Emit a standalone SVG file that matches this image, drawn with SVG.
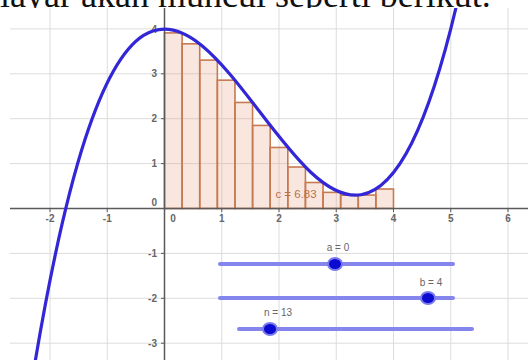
<svg xmlns="http://www.w3.org/2000/svg" width="528" height="360" viewBox="0 0 528 360">
<style>
.grid{stroke:#dcdcdc;stroke-width:1;fill:none}
.axis{stroke:#5a5a5a;stroke-width:1.5;fill:none}
.tick{stroke:#5a5a5a;stroke-width:1}
.lbl{font-family:"Liberation Sans",Arial,sans-serif;font-size:10px;fill:#666;font-weight:bold}
.rect{fill:#e8a080;fill-opacity:0.25;stroke:#c77a52;stroke-width:1.6}
.curve{stroke:#3326d6;stroke-width:3.2;fill:none}
.sline{stroke:#8585ee;stroke-width:4;stroke-linecap:round}
.knob{fill:#0a0ad0;stroke:#7a7af0;stroke-width:2}
.slbl{font-family:"Liberation Sans",Arial,sans-serif;font-size:10px;fill:#666;text-anchor:middle}
</style>
<defs>
<clipPath id="area"><rect x="10" y="8" width="518" height="352"/></clipPath>
</defs>
<rect width="528" height="360" fill="#fff"/>
<g id="caption">
<text x="0" y="7" font-family="Liberation Serif,Times New Roman,serif" font-size="36" fill="#111">layar akan muncul seperti berikut.</text>
</g>
<rect x="0" y="8" width="528" height="352" fill="#fff"/>
<g id="grid" class="grid">
<line x1="50" y1="8" x2="50" y2="360"/>
<line x1="107.25" y1="8" x2="107.25" y2="360"/>
<line x1="221.75" y1="8" x2="221.75" y2="360"/>
<line x1="279" y1="8" x2="279" y2="360"/>
<line x1="336.25" y1="8" x2="336.25" y2="360"/>
<line x1="393.5" y1="8" x2="393.5" y2="360"/>
<line x1="450.75" y1="8" x2="450.75" y2="360"/>
<line x1="508" y1="8" x2="508" y2="360"/>
<line x1="10" y1="28.9" x2="528" y2="28.9"/>
<line x1="10" y1="73.8" x2="528" y2="73.8"/>
<line x1="10" y1="118.7" x2="528" y2="118.7"/>
<line x1="10" y1="163.6" x2="528" y2="163.6"/>
<line x1="10" y1="253.4" x2="528" y2="253.4"/>
<line x1="10" y1="298.3" x2="528" y2="298.3"/>
<line x1="10" y1="343.2" x2="528" y2="343.2"/>
</g>
<g id="rectangles" class="rect">
<rect x="164.5" y="32.89" width="17.615" height="175.61"/>
<rect x="182.115" y="43.81" width="17.615" height="164.69"/>
<rect x="199.73" y="60.10" width="17.615" height="148.40"/>
<rect x="217.35" y="80.17" width="17.615" height="128.33"/>
<rect x="234.96" y="102.47" width="17.615" height="106.03"/>
<rect x="252.58" y="125.43" width="17.615" height="83.07"/>
<rect x="270.19" y="147.47" width="17.615" height="61.03"/>
<rect x="287.81" y="167.02" width="17.615" height="41.48"/>
<rect x="305.42" y="182.52" width="17.615" height="25.98"/>
<rect x="323.04" y="192.39" width="17.615" height="16.11"/>
<rect x="340.65" y="195.20" width="17.615" height="13.30"/>
<rect x="358.27" y="195.07" width="17.615" height="13.43"/>
<rect x="375.88" y="189.01" width="17.615" height="19.49"/>
</g>
<g id="axes">
<line class="axis" x1="10" y1="208.5" x2="528" y2="208.5"/>
<line class="axis" x1="164.5" y1="8" x2="164.5" y2="360"/>
<g class="tick">
<line x1="50" y1="208.5" x2="50" y2="212"/>
<line x1="107.25" y1="208.5" x2="107.25" y2="212"/>
<line x1="221.75" y1="208.5" x2="221.75" y2="212"/>
<line x1="279" y1="208.5" x2="279" y2="212"/>
<line x1="336.25" y1="208.5" x2="336.25" y2="212"/>
<line x1="393.5" y1="208.5" x2="393.5" y2="212"/>
<line x1="450.75" y1="208.5" x2="450.75" y2="212"/>
<line x1="508" y1="208.5" x2="508" y2="212"/>
<line x1="161" y1="28.9" x2="164.5" y2="28.9"/>
<line x1="161" y1="73.8" x2="164.5" y2="73.8"/>
<line x1="161" y1="118.7" x2="164.5" y2="118.7"/>
<line x1="161" y1="163.6" x2="164.5" y2="163.6"/>
<line x1="161" y1="253.4" x2="164.5" y2="253.4"/>
<line x1="161" y1="298.3" x2="164.5" y2="298.3"/>
<line x1="161" y1="343.2" x2="164.5" y2="343.2"/>
</g>
<g class="lbl" text-anchor="middle">
<text x="50" y="222">-2</text>
<text x="107.25" y="222">-1</text>
<text x="173" y="222">0</text>
<text x="221.75" y="222">1</text>
<text x="279" y="222">2</text>
<text x="336.25" y="222">3</text>
<text x="393.5" y="222">4</text>
<text x="450.75" y="222">5</text>
<text x="508" y="222">6</text>
</g>
<g class="lbl" text-anchor="end">
<text x="157" y="32.5">4</text>
<text x="157" y="77.4">3</text>
<text x="157" y="122.3">2</text>
<text x="157" y="167.2">1</text>
<text x="157" y="206">0</text>
<text x="157" y="257">-1</text>
<text x="157" y="301.9">-2</text>
<text x="157" y="346.8">-3</text>
</g>
</g>
<g id="curve" clip-path="url(#area)">
<path class="curve" d="M27.1,411.66 C172.13,-527.43 317.17,642.80 462.2,-19.66"/>
</g>
<g id="label-c">
<text x="296" y="198" font-family="Liberation Sans,Arial,sans-serif" font-size="11.5" fill="#b8724e" text-anchor="middle">c = 6.83</text>
</g>
<g id="slider-a">
<line class="sline" x1="220" y1="264" x2="453" y2="264"/>
<ellipse class="knob" cx="335" cy="264" rx="7" ry="6"/>
<text class="slbl" x="338" y="251">a = 0</text>
</g>
<g id="slider-b">
<line class="sline" x1="220" y1="298" x2="453" y2="298"/>
<ellipse class="knob" cx="428" cy="298" rx="7" ry="6"/>
<text class="slbl" x="431" y="286">b = 4</text>
</g>
<g id="slider-n">
<line class="sline" x1="239" y1="329" x2="472" y2="329"/>
<ellipse class="knob" cx="270" cy="329" rx="7" ry="6"/>
<text class="slbl" x="278" y="316">n = 13</text>
</g>
</svg>
